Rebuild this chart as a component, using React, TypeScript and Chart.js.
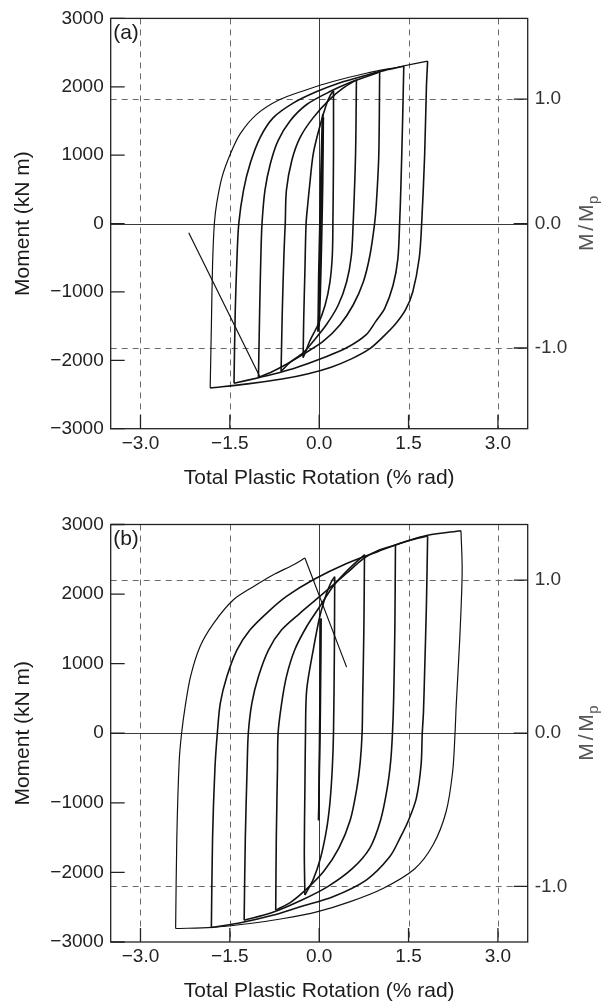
import React, { useEffect, useRef } from 'react';
import { Chart, registerables } from 'chart.js';

Chart.register(...registerables);

type Pt = [number, number];

// ---------- axis ticks ----------
const xTickValues = [-3, -1.5, 0, 1.5, 3];
const xTickLabels = ['−3.0', '−1.5', '0.0', '1.5', '3.0'];
const momentTickValues = [-3000, -2000, -1000, 0, 1000, 2000, 3000];
const momentTickLabels = ['−3000', '−2000', '−1000', '0', '1000', '2000', '3000'];
const ratioTickValues = [-1, 0, 1];
const ratioTickLabels = ['-1.0', '0.0', '1.0'];
const mpPanelA = 1820;
const mpPanelB = 2200;

// ---------- panel (a) curves: [rotation %rad, moment kN m] ----------
const aLoop1Up: Pt[] = [[-0.02, -1580], [-0.01, -800], [0.01, 0], [0.03, 800], [0.05, 1450], [0.06, 1600]];
const aLoop1Down: Pt[] = [[0.06, 1600], [0.05, 900], [0.03, 0], [0.01, -800], [-0.01, -1400], [-0.02, -1580]];
const aLoop1bUp: Pt[] = [[0.0, -1500], [0.01, -600], [0.03, 300], [0.05, 1100], [0.07, 1550]];
const aLoop1bDown: Pt[] = [[0.07, 1550], [0.06, 600], [0.04, -300], [0.02, -1000], [0.0, -1500]];
const aLoop2Up: Pt[] = [[-0.27, -1960], [-0.26, -1400], [-0.24, -700], [-0.22, 0], [-0.19, 300], [-0.16, 560], [-0.10, 1020], [0.01, 1420], [0.12, 1741], [0.19, 1880], [0.24, 1943]];
const aLoop2Down: Pt[] = [[0.24, 1943], [0.24, 1000], [0.23, 0], [0.22, -471], [0.18, -855], [0.10, -1191], [-0.02, -1480], [-0.16, -1721], [-0.24, -1900], [-0.27, -1960]];
const aLoop3Up: Pt[] = [[-0.64, -2163], [-0.62, -1300], [-0.59, -400], [-0.57, 0], [-0.55, 490], [-0.46, 923], [-0.32, 1260], [-0.10, 1549], [0.18, 1820], [0.40, 1980], [0.625, 2101]];
const aLoop3Down: Pt[] = [[0.625, 2101], [0.61, 1000], [0.57, 0], [0.54, -471], [0.46, -855], [0.32, -1191], [0.12, -1480], [-0.10, -1721], [-0.27, -1890], [-0.49, -2030], [-0.64, -2163]];
const aLoop4Up: Pt[] = [[-1.02, -2250], [-1.00, -1300], [-0.98, -500], [-0.96, 0], [-0.91, 490], [-0.82, 875], [-0.69, 1212], [-0.49, 1500], [-0.21, 1741], [0.18, 1930], [0.57, 2080], [1.015, 2215]];
const aLoop4Down: Pt[] = [[1.015, 2221], [1.0, 1000], [0.96, 300], [0.93, 0], [0.85, -471], [0.74, -855], [0.57, -1191], [0.35, -1480], [0.07, -1721], [-0.27, -1913], [-0.55, -2057], [-0.80, -2170], [-1.02, -2250]];
const aLoop5Up: Pt[] = [[-1.43, -2336], [-1.41, -1300], [-1.38, -500], [-1.35, 0], [-1.27, 490], [-1.16, 875], [-0.99, 1260], [-0.77, 1549], [-0.43, 1765], [-0.04, 1930], [0.35, 2060], [0.79, 2170], [1.10, 2240], [1.42, 2300]];
const aLoop5Down: Pt[] = [[1.42, 2305], [1.40, 1500], [1.37, 500], [1.35, 0], [1.32, -519], [1.24, -903], [1.10, -1240], [0.95, -1430], [0.79, -1624], [0.46, -1817], [0.07, -1962], [-0.38, -2106], [-0.66, -2178], [-1.00, -2250], [-1.43, -2336]];
const aLoop6Up: Pt[] = [[-1.83, -2403], [-1.81, -1500], [-1.79, -600], [-1.76, 0], [-1.72, 299], [-1.63, 683], [-1.49, 1020], [-1.33, 1308], [-1.05, 1597], [-0.66, 1813], [-0.21, 1957], [0.23, 2077], [0.79, 2198], [1.35, 2293], [1.82, 2375]];
const aLoop6Down: Pt[] = [[1.82, 2375], [1.80, 2000], [1.77, 1000], [1.72, 0], [1.68, -500], [1.57, -1000], [1.45, -1260], [1.28, -1470], [1.08, -1650], [0.85, -1830], [0.55, -1975], [0.20, -2100], [-0.20, -2200], [-0.60, -2270], [-1.20, -2345], [-1.83, -2403]];
const aFinalDrop: Pt[] = [[-0.99, -2250], [-2.19, -134]];

// ---------- panel (b) curves ----------
const bLoop1Up: Pt[] = [[-0.01, -1250], [0.0, -500], [0.01, 300], [0.02, 1000], [0.03, 1650]];
const bLoop1Down: Pt[] = [[0.03, 1650], [0.025, 800], [0.015, 0], [0.0, -700], [-0.01, -1250]];
const bLoop2Up: Pt[] = [[-0.24, -2326], [-0.25, -1700], [-0.24, -800], [-0.23, 0], [-0.21, 623], [-0.10, 1199], [0.01, 1678], [0.12, 2000], [0.20, 2170], [0.26, 2250]];
const bLoop2Down: Pt[] = [[0.26, 2250], [0.255, 1200], [0.24, 0], [0.22, -500], [0.18, -1000], [0.12, -1400], [0.02, -1800], [-0.10, -2100], [-0.24, -2326]];
const bLoop3Up: Pt[] = [[-0.73, -2542], [-0.72, -1500], [-0.70, -500], [-0.69, 0], [-0.63, 432], [-0.55, 814], [-0.41, 1199], [-0.21, 1534], [0.01, 1822], [0.23, 2110], [0.45, 2320], [0.62, 2460], [0.76, 2565]];
const bLoop3Down: Pt[] = [[0.76, 2570], [0.75, 1500], [0.73, 500], [0.72, 0], [0.69, -400], [0.63, -800], [0.52, -1250], [0.33, -1650], [0.08, -1980], [-0.20, -2230], [-0.48, -2430], [-0.73, -2542]];
const bLoop4Up: Pt[] = [[-1.26, -2686], [-1.24, -1500], [-1.21, -500], [-1.19, 0], [-1.13, 432], [-1.02, 814], [-0.85, 1199], [-0.63, 1486], [-0.32, 1727], [0.01, 1966], [0.46, 2300], [0.76, 2520], [1.0, 2630], [1.28, 2705], [1.55, 2780], [1.82, 2835]];
const bLoop4Down: Pt[] = [[1.28, 2710], [1.27, 1500], [1.25, 500], [1.23, 0], [1.20, -400], [1.14, -800], [1.03, -1250], [0.85, -1650], [0.55, -1950], [0.15, -2200], [-0.30, -2400], [-0.80, -2580], [-1.26, -2686]];
const bLoop5Up: Pt[] = [[-1.81, -2791], [-1.79, -1500], [-1.75, -500], [-1.71, 0], [-1.66, 432], [-1.55, 814], [-1.38, 1199], [-1.16, 1486], [-0.88, 1727], [-0.55, 1966], [-0.10, 2206], [0.46, 2440], [1.01, 2620], [1.40, 2740], [1.82, 2845], [2.38, 2910]];
const bLoop5Down: Pt[] = [[1.82, 2830], [1.80, 1847], [1.77, 887], [1.75, 300], [1.73, 0], [1.71, -456], [1.63, -935], [1.50, -1250], [1.36, -1500], [1.18, -1780], [0.79, -2110], [0.23, -2350], [-0.32, -2494], [-0.80, -2620], [-1.30, -2720], [-1.81, -2791]];
const bLoop6Down: Pt[] = [[2.38, 2910], [2.40, 2326], [2.36, 1367], [2.30, 407], [2.28, 0], [2.24, -553], [2.13, -1128], [1.91, -1607], [1.60, -1950], [1.07, -2230], [0.51, -2423], [-0.04, -2567], [-0.60, -2662], [-1.16, -2734], [-1.80, -2790], [-2.41, -2806]];
const bLoop6Up: Pt[] = [[-2.41, -2806], [-2.39, -1500], [-2.35, -400], [-2.31, 0], [-2.25, 383], [-2.16, 815], [-2.00, 1247], [-1.77, 1583], [-1.44, 1918], [-1.10, 2110], [-0.77, 2278], [-0.43, 2422], [-0.24, 2518]];
const bFinalDrop: Pt[] = [[-0.24, 2518], [0.46, 950]];

const panelACurves: Pt[][] = [aLoop1Up, aLoop1Down, aLoop1bUp, aLoop1bDown, aLoop2Up, aLoop2Down, aLoop3Up, aLoop3Down, aLoop4Up, aLoop4Down, aLoop5Up, aLoop5Down, aLoop6Up, aLoop6Down, aFinalDrop];
const panelBCurves: Pt[][] = [bLoop1Up, bLoop1Down, bLoop2Up, bLoop2Down, bLoop3Up, bLoop3Down, bLoop4Up, bLoop4Down, bLoop5Up, bLoop5Down, bLoop6Down, bLoop6Up, bFinalDrop];
// outermost (single-cycle) branches are drawn a little thinner
const panelAThin: Pt[][] = [aLoop6Up, aFinalDrop];
const panelBThin: Pt[][] = [bLoop6Up, bLoop6Down, bFinalDrop];

// ---------- layout / style ----------
const FONT = '"Liberation Sans", Arial, Helvetica, sans-serif';
const TEXT = '#1c1c1c';

interface PanelSpec {
  label: string;
  mp: number;
  curves: Pt[][];
  thin: Pt[][];
  top: number;
  canvasH: number;
  padTop: number;
  xAxisH: number;
}

const panels: PanelSpec[] = [
  { label: '(a)', mp: mpPanelA, curves: panelACurves, thin: panelAThin, top: 0, canvasH: 500, padTop: 12.7, xAxisH: 71.3 },
  { label: '(b)', mp: mpPanelB, curves: panelBCurves, thin: panelBThin, top: 500, canvasH: 503, padTop: 24.5, xAxisH: 61 },
];

function makePlugin(spec: PanelSpec) {
  return {
    id: 'decor',
    beforeDatasetsDraw(chart: any) {
      const { ctx, chartArea } = chart;
      const { left, right, top, bottom } = chartArea;
      const xs = chart.scales.x;
      const yr = chart.scales.y2;
      ctx.save();
      ctx.beginPath();
      ctx.rect(left, top, right - left, bottom - top);
      ctx.clip();
      ctx.lineWidth = 1;
      ctx.strokeStyle = '#6a6a6a';
      ctx.setLineDash([6, 5]);
      for (const v of xTickValues) {
        if (v === 0) continue;
        const p = Math.round(xs.getPixelForValue(v)) + 0.5;
        ctx.beginPath(); ctx.moveTo(p, top); ctx.lineTo(p, bottom); ctx.stroke();
      }
      for (const v of ratioTickValues) {
        if (v === 0) continue;
        const p = Math.round(yr.getPixelForValue(v)) + 0.5;
        ctx.beginPath(); ctx.moveTo(left, p); ctx.lineTo(right, p); ctx.stroke();
      }
      ctx.setLineDash([]);
      ctx.strokeStyle = '#3a3a3a';
      const x0 = Math.round(xs.getPixelForValue(0)) + 0.5;
      ctx.beginPath(); ctx.moveTo(x0, top); ctx.lineTo(x0, bottom); ctx.stroke();
      const y0 = Math.round(yr.getPixelForValue(0)) + 0.5;
      ctx.beginPath(); ctx.moveTo(left, y0); ctx.lineTo(right, y0); ctx.stroke();
      ctx.restore();
    },
    afterDatasetsDraw(chart: any) {
      const { ctx, chartArea } = chart;
      const { left, right, top, bottom } = chartArea;
      const xs = chart.scales.x;
      const yl = chart.scales.y;
      const yr = chart.scales.y2;
      const tl = 14;
      ctx.save();
      ctx.strokeStyle = '#222';
      ctx.lineWidth = 1.3;
      ctx.strokeRect(left, top, right - left, bottom - top);
      ctx.beginPath();
      for (const v of momentTickValues) {
        const p = yl.getPixelForValue(v);
        ctx.moveTo(left, p); ctx.lineTo(left + tl, p);
      }
      for (const v of ratioTickValues) {
        const p = yr.getPixelForValue(v);
        ctx.moveTo(right - tl, p); ctx.lineTo(right, p);
      }
      for (const v of xTickValues) {
        const p = xs.getPixelForValue(v);
        ctx.moveTo(p, bottom); ctx.lineTo(p, bottom - tl);
      }
      ctx.stroke();
      ctx.restore();
    },
    afterDraw(chart: any) {
      const { ctx, chartArea } = chart;
      const { left, right, top, bottom } = chartArea;
      const cy = (top + bottom) / 2;
      const cx = (left + right) / 2;
      ctx.save();
      ctx.fillStyle = TEXT;
      ctx.textBaseline = 'alphabetic';
      ctx.font = `21px ${FONT}`;
      ctx.textAlign = 'left';
      ctx.fillText(spec.label, left + 2.5, top + 20.5);
      ctx.textAlign = 'center';
      ctx.fillText('Total Plastic Rotation (% rad)', cx, bottom + 55.3);
      ctx.save();
      ctx.translate(28.8, cy);
      ctx.rotate(-Math.PI / 2);
      ctx.fillText('Moment (kN m)', 0, 0);
      ctx.restore();
      ctx.save();
      ctx.fillStyle = '#555';
      ctx.translate(593.3, cy);
      ctx.rotate(-Math.PI / 2);
      ctx.font = `21px ${FONT}`;
      try { (ctx as any).wordSpacing = '-3px'; } catch (e) { /* ignore */ }
      const main = 'M / M';
      const w1 = ctx.measureText(main).width;
      ctx.font = `15px ${FONT}`;
      const w2 = ctx.measureText('p').width;
      const start = -(w1 + w2) / 2;
      ctx.textAlign = 'left';
      ctx.font = `21px ${FONT}`;
      ctx.fillText(main, start, 0);
      ctx.font = `15px ${FONT}`;
      ctx.fillText('p', start + w1 + 0.5, 4.5);
      ctx.restore();
      ctx.restore();
    },
  };
}

function Panel({ spec }: { spec: PanelSpec }) {
  const ref = useRef<HTMLCanvasElement | null>(null);
  useEffect(() => {
    if (!ref.current) return;
    const tickFont = { family: FONT, size: 19 };
    const chart = new Chart(ref.current, {
      type: 'scatter',
      data: {
        datasets: spec.curves.map((c) => ({
          data: c.map(([x, y]) => ({ x, y })),
          showLine: true,
          borderColor: '#121212',
          borderWidth: spec.thin.includes(c) ? 1.2 : 1.6,
          pointRadius: 0,
          pointHoverRadius: 0,
          tension: 0.3,
          fill: false,
        })),
      },
      options: {
        responsive: false,
        animation: false,
        devicePixelRatio: 1,
        events: [],
        layout: { padding: { top: spec.padTop, left: 0, right: 0, bottom: 0 } },
        plugins: { legend: { display: false }, tooltip: { enabled: false } },
        scales: {
          x: {
            type: 'linear',
            position: 'bottom',
            min: -3.5,
            max: 3.5,
            afterBuildTicks: (s: any) => { s.ticks = xTickValues.map((value) => ({ value })); },
            afterFit: (s: any) => { s.height = spec.xAxisH; },
            ticks: {
              autoSkip: false,
              maxRotation: 0,
              padding: 3.6,
              font: tickFont,
              color: '#222',
              callback: (_v: any, i: number) => xTickLabels[i],
            },
            grid: { display: false, drawTicks: false },
            border: { display: false },
          },
          y: {
            type: 'linear',
            position: 'left',
            min: -3000,
            max: 3000,
            afterBuildTicks: (s: any) => { s.ticks = momentTickValues.map((value) => ({ value })); },
            afterFit: (s: any) => { s.width = 110.7; },
            ticks: {
              autoSkip: false,
              padding: 7,
              font: tickFont,
              color: '#222',
              callback: (_v: any, i: number) => momentTickLabels[i],
            },
            grid: { display: false, drawTicks: false },
            border: { display: false },
          },
          y2: {
            type: 'linear',
            position: 'right',
            min: -3000 / spec.mp,
            max: 3000 / spec.mp,
            afterBuildTicks: (s: any) => { s.ticks = ratioTickValues.map((value) => ({ value })); },
            afterFit: (s: any) => { s.width = 75.3; },
            ticks: {
              autoSkip: false,
              padding: 7,
              font: tickFont,
              color: '#333',
              callback: (_v: any, i: number) => ratioTickLabels[i],
            },
            grid: { display: false, drawTicks: false },
            border: { display: false },
          },
        },
      } as any,
      plugins: [makePlugin(spec)],
    });
    return () => chart.destroy();
  }, [spec]);
  return (
    <canvas
      ref={ref}
      width={603}
      height={spec.canvasH}
      style={{ position: 'absolute', left: 0, top: spec.top, width: 603, height: spec.canvasH, display: 'block' }}
    />
  );
}

export default function App() {
  return (
    <div style={{ position: 'absolute', left: 0, top: 0, width: 603, height: 1003, background: '#fff', overflow: 'hidden' }}>
      {panels.map((p) => (
        <Panel key={p.label} spec={p} />
      ))}
    </div>
  );
}
